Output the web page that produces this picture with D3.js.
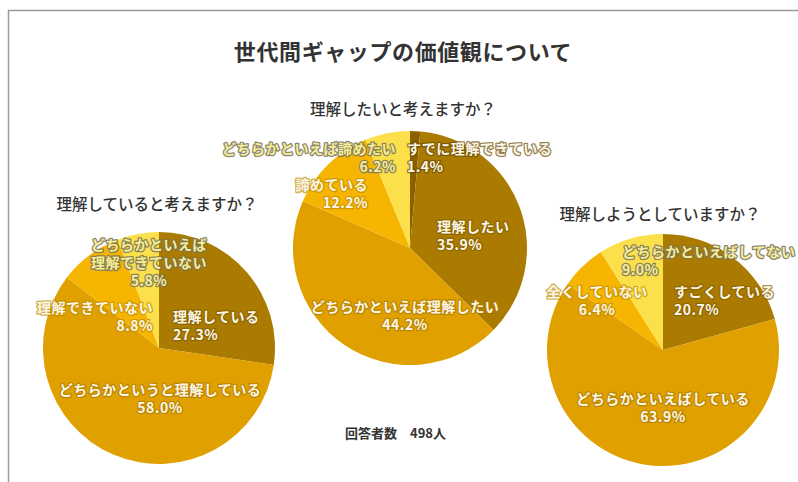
<!DOCTYPE html>
<html lang="ja">
<head>
<meta charset="utf-8">
<script src="https://cdn.jsdelivr.net/npm/d3@7"></script>
<style>
  html, body { margin: 0; padding: 0; background: #fff; }
  svg { display: block; font-family: "Noto Sans CJK JP", "Noto Sans", sans-serif; }
</style>
</head>
<body>
<svg id="chart" width="798" height="482"></svg>
<script>
// ---- data ----
const chartTitle = "世代間ギャップの価値観について";
const respondentNote = "回答者数　498人";

const q1Title = "理解していると考えますか？";
const q1Categories = ["理解している", "どちらかというと理解している", "理解できていない", "どちらかといえば理解できていない"];
const q1Values = [27.3, 58.0, 8.8, 5.8];

const q2Title = "理解したいと考えますか？";
const q2Categories = ["すでに理解できている", "理解したい", "どちらかといえば理解したい", "諦めている", "どちらかといえば諦めたい"];
const q2Values = [1.4, 35.9, 44.2, 12.2, 6.2];

const q3Title = "理解しようとしていますか？";
const q3Categories = ["すごくしている", "どちらかといえばしている", "全くしていない", "どちらかといえばしてない"];
const q3Values = [20.7, 63.9, 6.4, 9.0];

// ---- palette ----
const DARKEST = "#8b6100", DARK = "#aa7b00", GOLD = "#dfa000", ORANGE = "#f6b500", LIGHT = "#fbe04c";
const q1Colors = [DARK, GOLD, ORANGE, LIGHT];
const q2Colors = [DARKEST, DARK, GOLD, ORANGE, LIGHT];
const q3Colors = [DARK, GOLD, ORANGE, LIGHT];

// ---- layout (label offsets are relative to each pie centre) ----
const pies = [
  { title: q1Title, cats: q1Categories, vals: q1Values, colors: q1Colors,
    cx: 159, cy: 348, r: 116, titleX: 157, titleY: 203,
    labels: [
      { dx: 14, dy: -32, anchor: "start" },
      { dx: 1, dy: 41, anchor: "middle" },
      { dx: -6, dy: -41, anchor: "end" },
      { dx: -10, dy: -104, anchor: "middle", split: 8 }
    ] },
  { title: q2Title, cats: q2Categories, vals: q2Values, colors: q2Colors,
    cx: 410, cy: 248, r: 117, titleX: 403, titleY: 108,
    labels: [
      { dx: -3, dy: -100, anchor: "start" },
      { dx: 27, dy: -22, anchor: "start" },
      { dx: -5, dy: 58, anchor: "middle" },
      { dx: -42, dy: -64, anchor: "end" },
      { dx: -14, dy: -100, anchor: "end" }
    ] },
  { title: q3Title, cats: q3Categories, vals: q3Values, colors: q3Colors,
    cx: 663, cy: 350, r: 116, titleX: 660, titleY: 213,
    labels: [
      { dx: 11, dy: -59, anchor: "start" },
      { dx: 0, dy: 48, anchor: "middle" },
      { dx: -66, dy: -59, anchor: "middle" },
      { dx: -41, dy: -99, anchor: "start" }
    ] }
];

const svg = d3.select("#chart");
const fmt = d3.format(".1f");
const lineH = 18;

// frame
svg.append("rect")
  .attr("x", 8.5).attr("y", 10.5)
  .attr("width", 820).attr("height", 520)
  .attr("fill", "none").attr("stroke", "#9b9b9b").attr("stroke-width", 1.5);

// title
svg.append("text")
  .attr("x", 403).attr("y", 50)
  .attr("text-anchor", "middle").attr("dominant-baseline", "central")
  .attr("font-size", 22).attr("font-weight", 700)
  .attr("letter-spacing", 0.6)
  .attr("fill", "#333").text(chartTitle);

// respondent note
svg.append("text")
  .attr("x", 345).attr("y", 432)
  .attr("dominant-baseline", "central")
  .attr("font-size", 13).attr("font-weight", 700)
  .attr("fill", "#333").text(respondentNote);

const pieGen = d3.pie().sort(null).value(d => d.value);

pies.forEach(p => {
  const rows = p.cats.map((c, i) => ({ cat: c, value: p.vals[i], color: p.colors[i], lab: p.labels[i] }));
  const arcs = pieGen(rows);
  const arc = d3.arc().innerRadius(0).outerRadius(p.r);

  svg.append("text")
    .attr("x", p.titleX).attr("y", p.titleY)
    .attr("text-anchor", "middle").attr("dominant-baseline", "central")
    .attr("font-size", 15.5).attr("font-weight", 500)
    .attr("fill", "#333").text(p.title);

  const g = svg.append("g").attr("transform", `translate(${p.cx},${p.cy})`);

  g.selectAll("path.slice").data(arcs).join("path")
    .attr("class", "slice")
    .attr("d", arc)
    .attr("fill", d => d.data.color);

  const labels = g.selectAll("text.lbl").data(arcs).join("text")
    .attr("class", "lbl")
    .attr("text-anchor", d => d.data.lab.anchor)
    .attr("font-size", 14).attr("font-weight", 700)
    .attr("letter-spacing", 0.5)
    .attr("paint-order", "stroke")
    .attr("stroke-linejoin", "round")
    .attr("stroke-width", 2.6)
    .attr("fill", d => d.data.color === LIGHT ? "#f5ed98" : "#fbf6e8")
    .attr("stroke", d => d.data.color === LIGHT ? "rgba(120,115,90,0.85)" : d3.color(d.data.color).darker(0.7).copy({ opacity: 0.7 }).toString());

  labels.each(function (d) {
    const lab = d.data.lab;
    const lines = lab.split ? [d.data.cat.slice(0, lab.split), d.data.cat.slice(lab.split)] : [d.data.cat];
    lines.push(fmt(d.data.value) + "%");
    d3.select(this).selectAll("tspan").data(lines).join("tspan")
      .attr("x", lab.dx)
      .attr("y", (t, i) => lab.dy + i * lineH)
      .attr("dominant-baseline", "central")
      .text(t => t);
  });
});
</script>
</body>
</html>
